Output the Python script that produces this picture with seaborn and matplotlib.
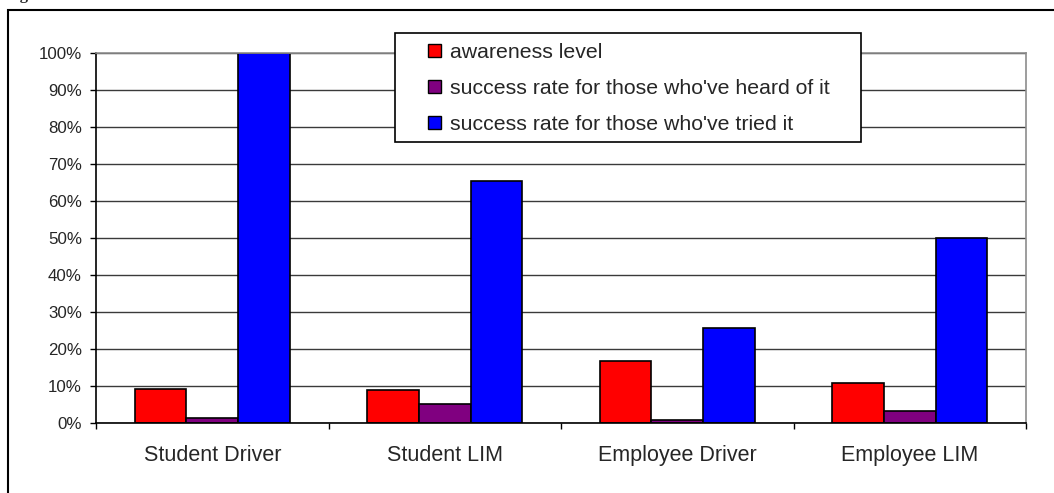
import matplotlib
matplotlib.use("Agg")
import matplotlib.pyplot as plt
from matplotlib.patches import Rectangle
from matplotlib.ticker import MultipleLocator, FixedLocator, FuncFormatter
import pandas as pd
import seaborn as sns

# Survey results (percent)
groups = ["Student Driver", "Student LIM", "Employee Driver", "Employee LIM"]
series_names = [
    "awareness level",
    "success rate for those who've heard of it",
    "success rate for those who've tried it",
]
awareness = [9.2, 8.8, 16.7, 10.8]
success_heard = [1.4, 5.1, 0.7, 3.2]
success_tried = [100.0, 65.5, 25.7, 50.0]
colors = ["#FF0000", "#800080", "#0000FF"]

rows = []
for name, vals in zip(series_names, [awareness, success_heard, success_tried]):
    for g, v in zip(groups, vals):
        rows.append({"group": g, "series": name, "value": v})
df = pd.DataFrame(rows)

sns.set_style("white")
plt.rcParams["font.family"] = ["Liberation Sans", "DejaVu Sans"]

W, H = 1054, 493
fig = plt.figure(figsize=(W / 100, H / 100), dpi=100)
ax = fig.add_axes([96 / W, 1 - 423 / H, (1026 - 96) / W, (423 - 53) / H])

sns.barplot(
    data=df, x="group", y="value", hue="series", order=groups,
    hue_order=series_names, palette=colors, saturation=1,
    width=0.667, gap=0, edgecolor="black", linewidth=1.2, ax=ax,
)
handles, labels = ax.get_legend_handles_labels()
ax.get_legend().remove()

ax.set_xlim(-0.5, 3.5)
ax.set_ylim(0, 100)
ax.set_xlabel("")
ax.set_ylabel("")

ax.yaxis.set_major_locator(MultipleLocator(10))
ax.yaxis.set_major_formatter(FuncFormatter(lambda v, _: f"{v:.0f}%"))
ax.set_axisbelow(True)
ax.yaxis.grid(True, color="#3a3a3a", linewidth=1.0)
ax.xaxis.grid(False)

for side in ("left", "bottom"):
    ax.spines[side].set_color("black")
    ax.spines[side].set_linewidth(1.2)
for side in ("top", "right"):
    ax.spines[side].set_color("#8c8c8c")
    ax.spines[side].set_linewidth(1.2)

ax.tick_params(axis="y", which="major", direction="out", length=4.3, width=1,
               color="black", pad=5.8, labelsize=12.2, left=True)
ax.xaxis.set_minor_locator(FixedLocator([-0.5, 0.5, 1.5, 2.5, 3.5]))
ax.tick_params(axis="x", which="major", length=0, pad=16, labelsize=15.5)
ax.tick_params(axis="x", which="minor", direction="out", length=4.5, width=1,
               color="black", bottom=True)

# Legend box with a separate frame
frame = Rectangle((395 / W, 1 - 142 / H), (861 - 395) / W, (142 - 33) / H,
                  transform=fig.transFigure, facecolor="white",
                  edgecolor="black", linewidth=1.2, zorder=4)
fig.add_artist(frame)
leg = fig.legend(handles, labels, loc="upper left",
                 bbox_to_anchor=(428 / W, 1 - 43 / H), frameon=False,
                 borderpad=0, borderaxespad=0, fontsize=15.3,
                 handlelength=0.61, handleheight=0.61, handletextpad=0.42,
                 labelspacing=0.8)
leg.set_zorder(5)
for h in leg.legend_handles:
    h.set_edgecolor("black")
    h.set_linewidth(1.0)

# Outer page frame and caption running off the top edge
outer = Rectangle((8 / W, -0.2), 1.2, 1.2 - 10 / H, transform=fig.transFigure,
                  fill=False, edgecolor="black", linewidth=1.5, zorder=3)
fig.add_artist(outer)
fig.text(6 / W, 1 + 1 / H, "Figure", fontsize=12, fontweight="bold",
         family="Liberation Serif", va="baseline", ha="left")

fig.savefig("out.png", dpi=100)
